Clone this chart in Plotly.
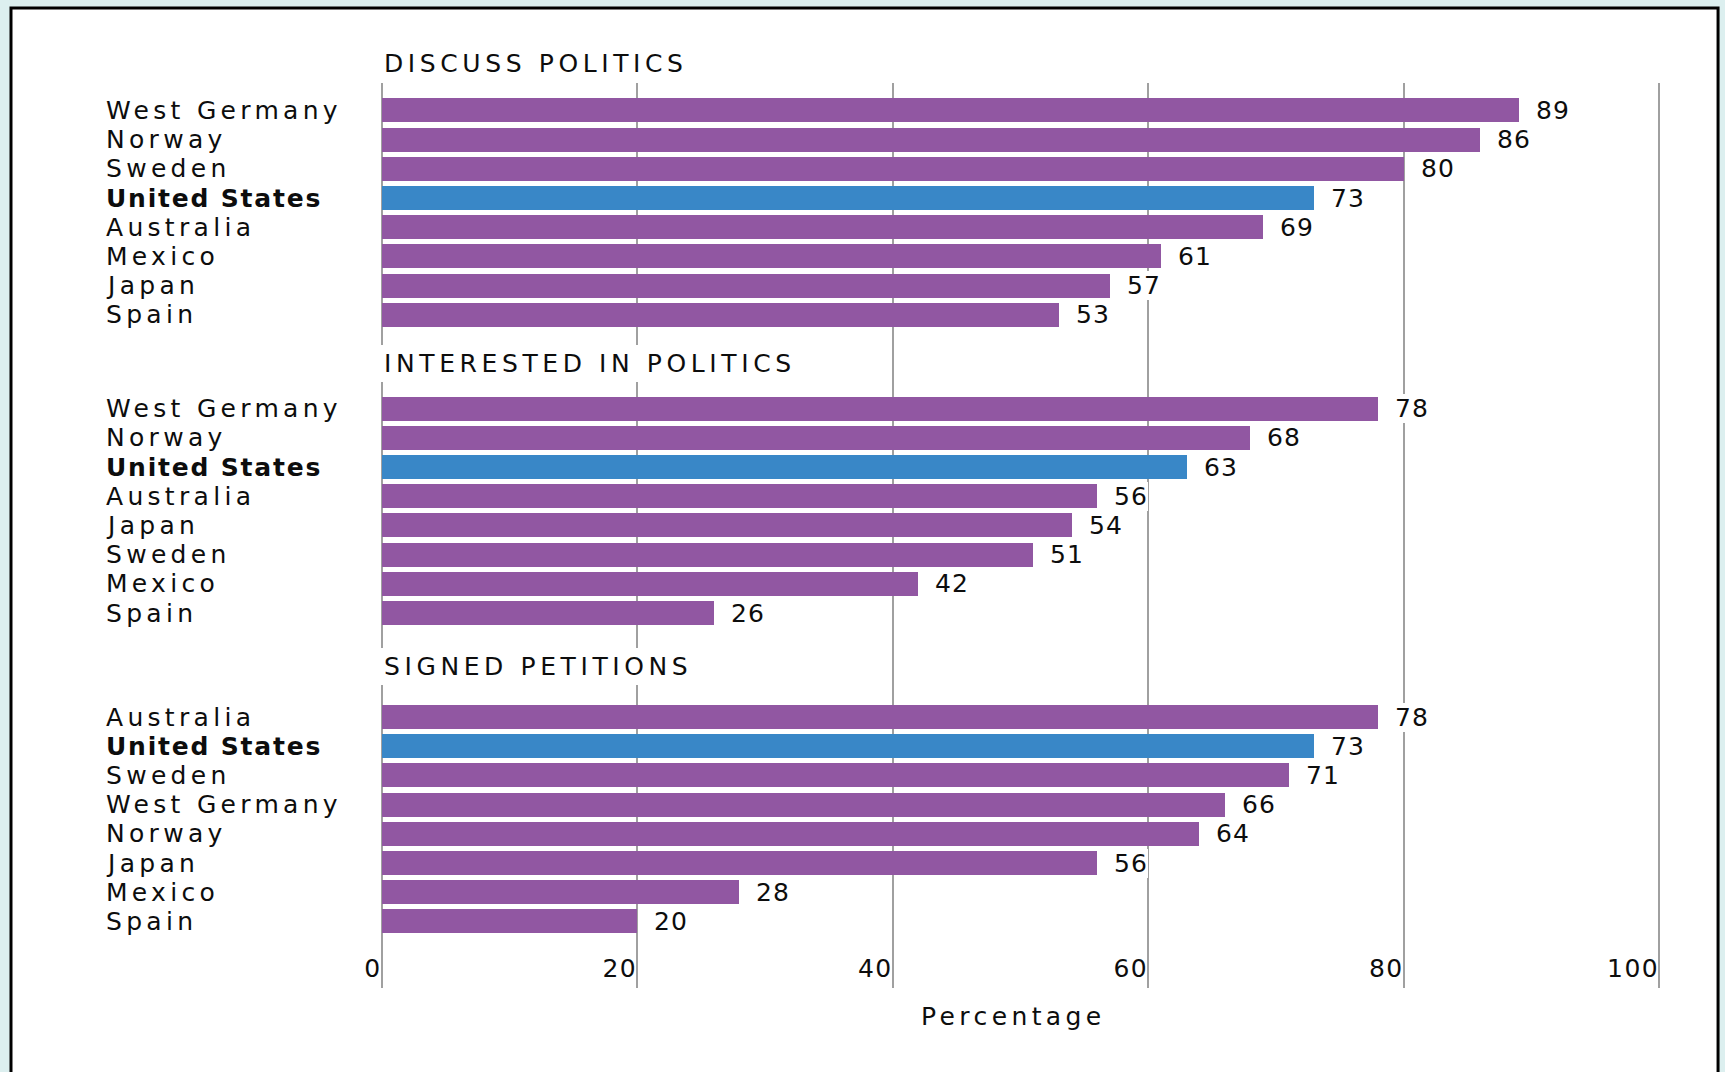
import plotly.graph_objects as go

# ---- data ---------------------------------------------------------------
panel_titles = ["DISCUSS POLITICS", "INTERESTED IN POLITICS", "SIGNED PETITIONS"]

discuss_countries = ["West Germany", "Norway", "Sweden", "United States",
                     "Australia", "Mexico", "Japan", "Spain"]
discuss_values = [89, 86, 80, 73, 69, 61, 57, 53]

interested_countries = ["West Germany", "Norway", "United States", "Australia",
                        "Japan", "Sweden", "Mexico", "Spain"]
interested_values = [78, 68, 63, 56, 54, 51, 42, 26]

petition_countries = ["Australia", "United States", "Sweden", "West Germany",
                      "Norway", "Japan", "Mexico", "Spain"]
petition_values = [78, 73, 71, 66, 64, 56, 28, 20]

x_ticks = [0, 20, 40, 60, 80, 100]
x_title = "Percentage"
highlight_country = "United States"

# ---- styling / layout constants ------------------------------------------
FONT = "DejaVu Sans"
SIZE = 25
PURPLE = "#9157a2"
BLUE = "#3987c7"
GRID = "#a0a0a0"
INK = "#0d0d0d"

panel_offsets = [0.0, 10.21, 20.77]      # row index of each panel's first bar
title_paper_y = [1.021, 0.6906, 0.3558]  # vertical placement of panel headings


def spaced(text, px):
    return f'<span style="letter-spacing:{px}px">{text}</span>'


panels = [
    (discuss_countries, discuss_values),
    (interested_countries, interested_values),
    (petition_countries, petition_values),
]

fig = go.Figure()
annotations = []

for (countries, values), offset, title, ty in zip(panels, panel_offsets,
                                                   panel_titles, title_paper_y):
    rows = [offset + i for i in range(len(countries))]
    colors = [BLUE if c == highlight_country else PURPLE for c in countries]
    fig.add_trace(go.Bar(
        x=values, y=rows, orientation="h", width=0.82,
        marker=dict(color=colors, line=dict(width=0)),
        hoverinfo="skip", showlegend=False,
    ))
    # value labels at the end of each bar
    for v, r in zip(values, rows):
        annotations.append(dict(
            x=v, y=r, xref="x", yref="y", xanchor="left", yanchor="middle",
            xshift=17, text=spaced(str(v), 1), showarrow=False,
            bgcolor="white", borderpad=0, borderwidth=0,
            font=dict(family=FONT, size=SIZE, color=INK),
        ))
    # country names, left-aligned
    for c, r in zip(countries, rows):
        label = spaced(f"<b>{c}</b>", 1.8) if c == highlight_country else spaced(c, 4.3)
        annotations.append(dict(
            x=-0.173, y=r, xref="paper", yref="y", xanchor="left",
            yanchor="middle", text=label, showarrow=False,
            borderpad=0, borderwidth=0,
            font=dict(family=FONT, size=SIZE, color=INK),
        ))
    # panel heading
    annotations.append(dict(
        x=0, y=ty, xref="x", yref="paper", xanchor="left", yanchor="middle",
        xshift=-2, text=spaced(title, 4.6), showarrow=False,
        bgcolor="white", borderpad=4, borderwidth=0,
        font=dict(family=FONT, size=SIZE, color=INK),
    ))

# axis caption under the tick labels
annotations.append(dict(
    x=0.5064, y=-0.032, xref="paper", yref="paper",
    xanchor="center", yanchor="middle", showarrow=False,
    text=spaced(x_title, 4.4),
    font=dict(family=FONT, size=SIZE, color=INK),
))

# white framed panel sitting on the tinted page
frame = dict(
    type="rect", xref="paper", yref="paper",
    x0=-0.2442, x1=1.0345, y0=-0.15, y1=1.0829,
    line=dict(color="black", width=3), fillcolor="white", layer="below",
)

fig.update_layout(
    width=1725, height=1072,
    margin=dict(l=337, r=53, t=83, b=84),
    paper_bgcolor="#dcefef",
    plot_bgcolor="rgba(0,0,0,0)",
    shapes=[frame],
    annotations=annotations,
    bargap=0,
    xaxis=dict(
        range=[-3.5, 101],
        tickvals=x_ticks,
        ticktext=[spaced(str(t), 1.5) for t in x_ticks],
        ticklabelposition="inside left",
        ticks="",
        showgrid=True, gridcolor=GRID, gridwidth=2,
        zeroline=True, zerolinecolor=GRID, zerolinewidth=2,
        showline=False,
        tickfont=dict(family=FONT, size=SIZE, color=INK),
        fixedrange=True,
    ),
    yaxis=dict(
        range=[30.05, -0.94],
        showgrid=False, zeroline=False, showticklabels=False,
        ticks="", fixedrange=True,
    ),
)

fig.write_html("out.html")
